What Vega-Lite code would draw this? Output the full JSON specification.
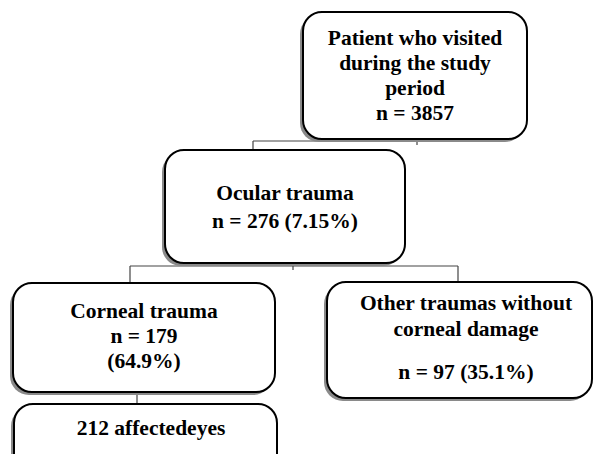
{
  "$schema": "https://vega.github.io/schema/vega-lite/v6.json",
  "width": 594,
  "height": 454,
  "autosize": {"type": "fit", "contains": "padding"},
  "padding": 0,
  "background": "white",
  "config": {"view": {"stroke": null}},
  "datasets": {
    "boxes": [
      {"id": "b1", "x1": 303, "x2": 527, "y1": 12, "y2": 139},
      {"id": "b2", "x1": 165, "x2": 405, "y1": 150, "y2": 263},
      {"id": "b3", "x1": 13, "x2": 275, "y1": 283, "y2": 392},
      {"id": "b4", "x1": 327, "x2": 592, "y1": 282, "y2": 398},
      {"id": "b5", "x1": 14, "x2": 277, "y1": 404, "y2": 475}
    ],
    "links": [
      {"x1": 417, "y1": 139, "x2": 417, "y2": 145},
      {"x1": 253, "y1": 141, "x2": 417, "y2": 141},
      {"x1": 253, "y1": 141, "x2": 253, "y2": 150},
      {"x1": 293, "y1": 263, "x2": 293, "y2": 270},
      {"x1": 130, "y1": 266, "x2": 458, "y2": 266},
      {"x1": 130, "y1": 266, "x2": 130, "y2": 283},
      {"x1": 458, "y1": 266, "x2": 458, "y2": 282},
      {"x1": 137, "y1": 392, "x2": 137, "y2": 404}
    ],
    "labels": [
      {"text": "Patient who visited", "x": 415, "y": 45},
      {"text": "during the study", "x": 415, "y": 70},
      {"text": "period", "x": 415, "y": 95},
      {"text": "n = 3857", "x": 415, "y": 120},
      {"text": "Ocular trauma", "x": 285, "y": 200},
      {"text": "n = 276 (7.15%)", "x": 285, "y": 228},
      {"text": "Corneal trauma", "x": 144, "y": 318},
      {"text": "n = 179", "x": 144, "y": 343},
      {"text": "(64.9%)", "x": 144, "y": 368},
      {"text": "Other traumas without", "x": 466, "y": 310},
      {"text": "corneal damage", "x": 466, "y": 336},
      {"text": "n = 97 (35.1%)", "x": 466, "y": 379},
      {"text": "212 affectedeyes", "x": 151, "y": 435}
    ]
  },
  "layer": [
    {
      "data": {"name": "links"},
      "mark": {"type": "rule", "color": "#444444", "strokeWidth": 1.2},
      "encoding": {
        "x": {"field": "x1", "type": "quantitative", "scale": {"domain": [0, 594], "nice": false, "zero": false}, "axis": null},
        "x2": {"field": "x2"},
        "y": {"field": "y1", "type": "quantitative", "scale": {"domain": [0, 454], "nice": false, "zero": false, "reverse": true}, "axis": null},
        "y2": {"field": "y2"}
      }
    },
    {
      "data": {"name": "boxes"},
      "mark": {"type": "rect", "fill": "#8a8a8a", "cornerRadius": 19, "xOffset": -3, "x2Offset": -3, "yOffset": 3, "y2Offset": 3, "clip": true},
      "encoding": {
        "x": {"field": "x1", "type": "quantitative"},
        "x2": {"field": "x2"},
        "y": {"field": "y1", "type": "quantitative"},
        "y2": {"field": "y2"}
      }
    },
    {
      "data": {"name": "boxes"},
      "mark": {"type": "rect", "fill": "white", "stroke": "black", "strokeWidth": 2, "cornerRadius": 19, "clip": true},
      "encoding": {
        "x": {"field": "x1", "type": "quantitative"},
        "x2": {"field": "x2"},
        "y": {"field": "y1", "type": "quantitative"},
        "y2": {"field": "y2"}
      }
    },
    {
      "data": {"name": "labels"},
      "mark": {"type": "text", "font": "Liberation Serif", "fontWeight": "bold", "fontSize": 21.5, "align": "center", "baseline": "alphabetic", "color": "black"},
      "encoding": {
        "x": {"field": "x", "type": "quantitative"},
        "y": {"field": "y", "type": "quantitative"},
        "text": {"field": "text"}
      }
    }
  ]
}
